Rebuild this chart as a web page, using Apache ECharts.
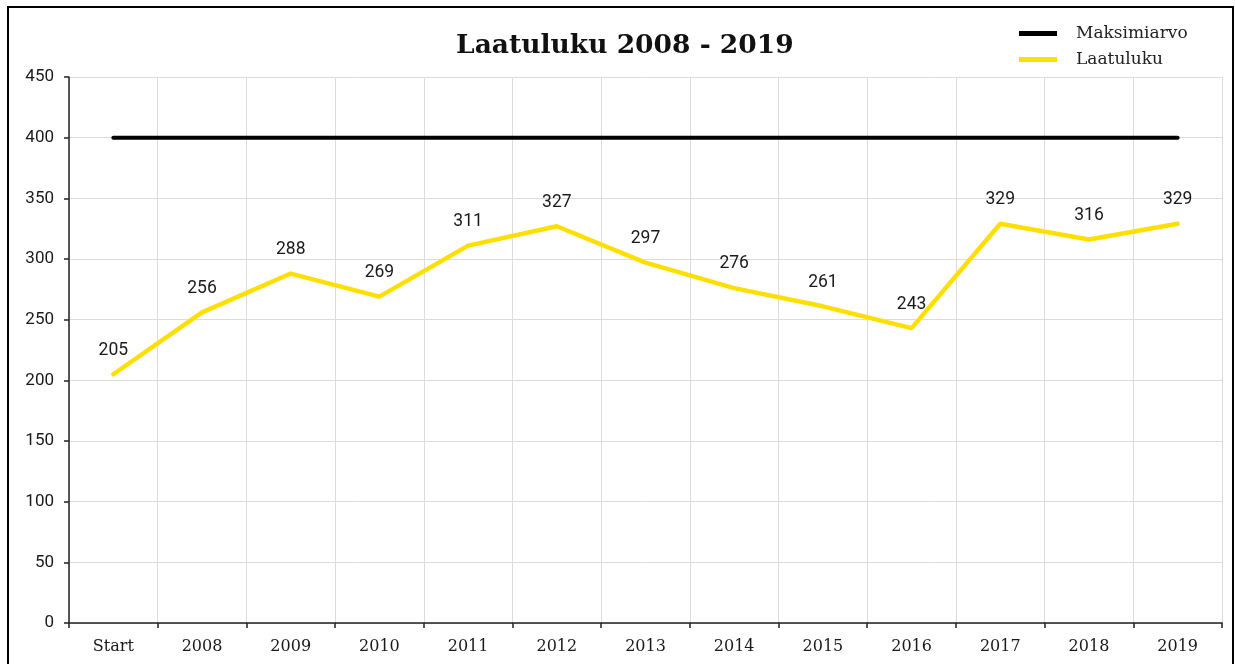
<!DOCTYPE html>
<html lang="fi">
<head>
    <meta charset="UTF-8">
    <title>Laatuluku 2008 - 2019</title>
    <style>
        *{
            padding: 0;
            margin: 0;
            box-sizing: border-box;
        }
        html, body{
            height: 100%;
            background: #fff;
        }
        #main{
            width: 1235px;
            height: 664px;
        }
    </style>
</head>
<body>
<div id="main"></div>
<script src="https://cdn.jsdelivr.net/npm/echarts@6/dist/echarts.min.js"></script>
<script type="text/javascript">
    // data
    var categories = ['Start', '2008', '2009', '2010', '2011', '2012', '2013', '2014', '2015', '2016', '2017', '2018', '2019'];
    var laatuluku = [205, 256, 288, 269, 311, 327, 297, 276, 261, 243, 329, 316, 329];
    var maksimiarvo = [400, 400, 400, 400, 400, 400, 400, 400, 400, 400, 400, 400, 400];
    var yTicks = {min: 0, max: 450, interval: 50};

    var slab = '"DejaVu Serif", serif';
    var sans = 'Roboto, sans-serif';

    var myChart = echarts.init(document.getElementById('main'));
    var option = {
        backgroundColor: '#fff',
        animation: false,
        graphic: [{
            type: 'rect',
            shape: {x: 8, y: 7, width: 1225, height: 700},
            style: {fill: 'none', stroke: '#000', lineWidth: 2},
            silent: true
        }],
        title: {
            text: 'Laatuluku 2008 - 2019',
            left: 451,
            top: 28,
            textStyle: {
                fontFamily: slab,
                fontWeight: 'bold',
                fontSize: 26.5,
                color: '#111'
            }
        },
        legend: {
            orient: 'vertical',
            left: 1014,
            top: 20,
            icon: 'rect',
            itemWidth: 38,
            itemHeight: 5,
            itemGap: 9,
            textStyle: {
                fontFamily: slab,
                fontSize: 17,
                color: '#222',
                padding: [0, 0, 0, 14]
            },
            data: ['Maksimiarvo', 'Laatuluku']
        },
        grid: {
            left: 69,
            right: 13,
            top: 77,
            bottom: 41,
            containLabel: false
        },
        xAxis: {
            type: 'category',
            data: categories,
            boundaryGap: true,
            axisLine: {lineStyle: {color: '#222', width: 1.5}},
            axisTick: {show: true, length: 5, lineStyle: {color: '#222', width: 1.5}},
            axisLabel: {
                interval: 0,
                margin: 16,
                fontFamily: slab,
                fontSize: 16,
                color: '#1a1a1a'
            },
            splitLine: {show: true, lineStyle: {color: '#dcdcdc'}}
        },
        yAxis: {
            type: 'value',
            min: yTicks.min,
            max: yTicks.max,
            interval: yTicks.interval,
            axisLine: {show: true, lineStyle: {color: '#222', width: 1.5}},
            axisTick: {show: true, length: 5, lineStyle: {color: '#222', width: 1.5}},
            axisLabel: {
                margin: 15,
                fontFamily: sans,
                fontSize: 17,
                color: '#1a1a1a'
            },
            splitLine: {show: true, lineStyle: {color: '#dcdcdc'}}
        },
        series: [
            {
                name: 'Maksimiarvo',
                type: 'line',
                data: maksimiarvo,
                symbol: 'none',
                color: '#000',
                lineStyle: {color: '#000', width: 4, cap: 'round'}
            },
            {
                name: 'Laatuluku',
                type: 'line',
                data: laatuluku,
                symbol: 'circle',
                symbolSize: 2,
                showSymbol: true,
                color: '#ffdf00',
                itemStyle: {color: '#ffdf00'},
                lineStyle: {color: '#ffdf00', width: 4.5, cap: 'round'},
                label: {
                    show: true,
                    position: 'top',
                    distance: 14,
                    fontFamily: sans,
                    fontSize: 17.5,
                    color: '#1a1a1a'
                },
                labelLayout: {hideOverlap: false}
            }
        ]
    };
    myChart.setOption(option);
</script>
</body>
</html>
